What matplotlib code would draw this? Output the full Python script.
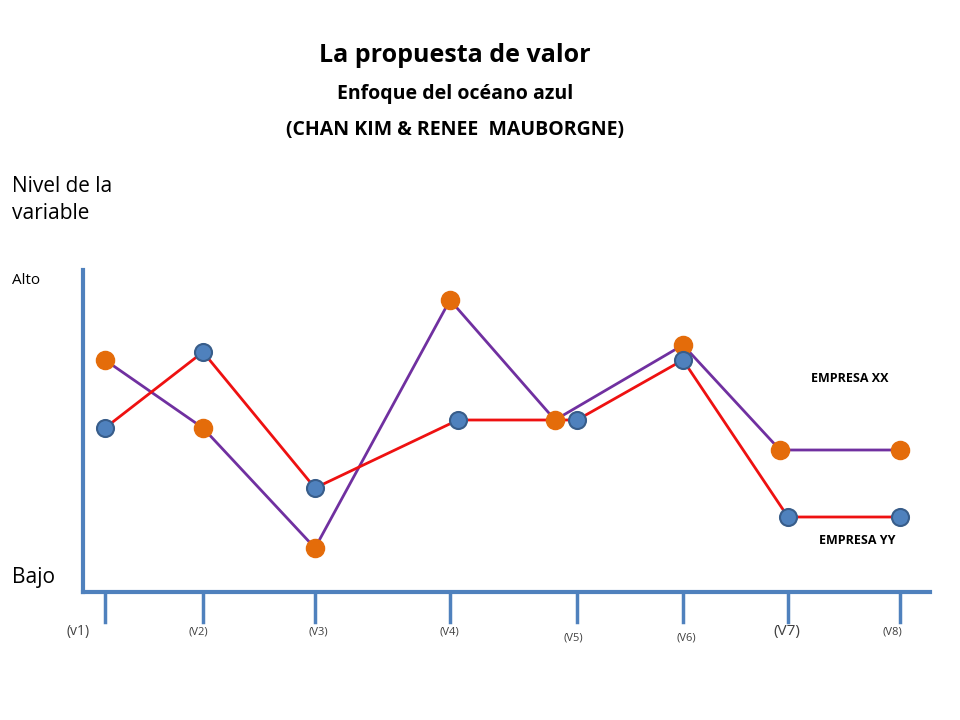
import matplotlib
matplotlib.use("Agg")
import matplotlib.pyplot as plt

# variable positions along the axis and levels (0 = Bajo, ~300 = Alto)
var_labels = ["(v1)", "(V2)", "(V3)", "(V4)", "(V5)", "(V6)", "(V7)", "(V8)"]
var_pos = [105, 203, 315, 450, 577, 683, 788, 900]

xx_pos = [105, 203, 315, 450, 555, 683, 780, 900]
xx_level = [232, 164, 44, 292, 172, 247, 142, 142]

yy_pos = [105, 203, 315, 458, 577, 683, 788, 900]
yy_level = [164, 240, 104, 172, 172, 232, 75, 75]

# label placement tweaks (layout only)
label_x = [78, 198, 318, 449, 573, 686, 787, 892]
label_sizes = [10, 8, 8, 8, 8, 8, 11, 8]
label_drop = [0, 0, 0, 0, 6, 6, 0, 0]

fig = plt.figure(figsize=(9.6, 7.2), dpi=100)
ax = fig.add_axes([0, 0, 1, 1])
ax.set_xlim(0, 960)
ax.set_ylim(-128, 592)
ax.axis("off")

font = "Open Sans"
axis_col = "#4f81bd"
ax.plot([83, 83], [0, 322], color=axis_col, lw=3)
ax.plot([83, 930], [0, 0], color=axis_col, lw=3)
for x in var_pos:
    ax.plot([x, x], [0, -30], color=axis_col, lw=2.5)
for lx, lab, fs, d in zip(label_x, label_x and var_labels, label_sizes, label_drop):
    ax.text(lx, -40 - d, lab, ha="center", va="center", fontsize=fs,
            color="#404040", family=font)

ax.plot(xx_pos, xx_level, color="#7030a0", lw=2, zorder=2)
ax.plot(yy_pos, yy_level, color="#ee1111", lw=2, zorder=2)
ax.scatter(xx_pos, xx_level, s=170, color="#e46c0a", zorder=3)
ax.scatter(yy_pos, yy_level, s=150, color="#4f81bd", edgecolors="#385d8a",
           linewidths=1.5, zorder=4)

ax.text(850, 214, "EMPRESA XX", ha="center", va="center", fontsize=9,
        fontweight="bold", family=font)
ax.text(857, 51, "EMPRESA YY", ha="center", va="center", fontsize=9,
        fontweight="bold", family=font)

ax.text(12, 312, "Alto", fontsize=11, va="center", family=font)
ax.text(12, 15, "Bajo", fontsize=15, va="center", family=font)
ax.text(12, 392, "Nivel de la\nvariable", fontsize=15, va="center",
        linespacing=1.4, family=font)

ax.text(455, 537, "La propuesta de valor", ha="center", va="center",
        fontsize=18, fontweight="bold", family=font)
ax.text(455, 498, "Enfoque del océano azul", ha="center", va="center",
        fontsize=14, fontweight="bold", family=font)
ax.text(455, 462, "(CHAN KIM & RENEE  MAUBORGNE)", ha="center", va="center",
        fontsize=14, fontweight="bold", family=font)

fig.savefig("out.png", dpi=100)
